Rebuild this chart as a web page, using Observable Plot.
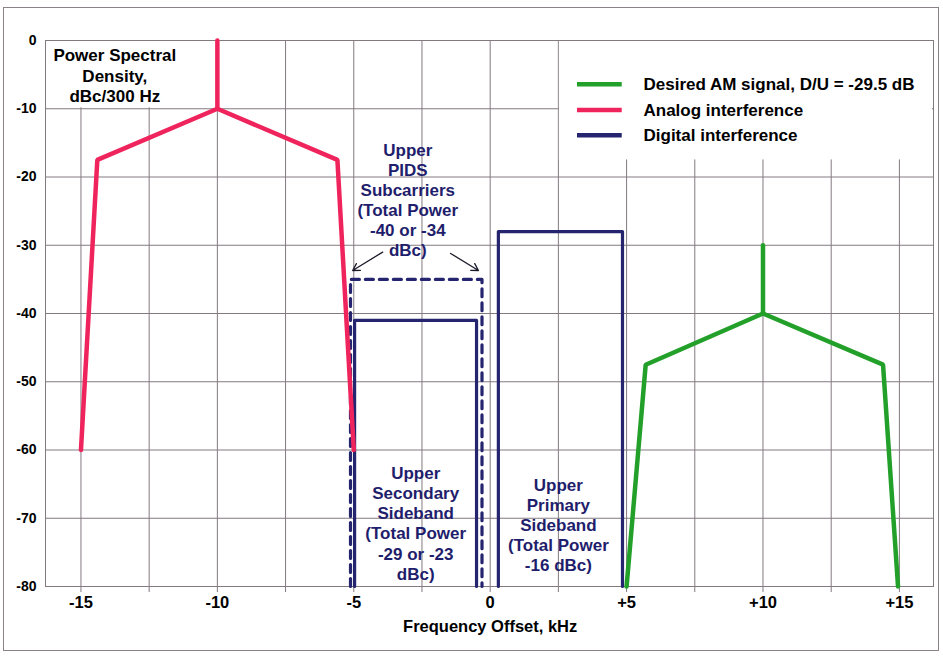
<!DOCTYPE html>
<html>
<head>
<meta charset="utf-8">
<script src="https://cdn.jsdelivr.net/npm/d3@7"></script>
<script src="https://cdn.jsdelivr.net/npm/@observablehq/plot@0.6"></script>
<style>
  html, body { margin: 0; padding: 0; background: #fff; }
  #wrap { position: relative; width: 943px; height: 656px; overflow: hidden; }
  #border { position: absolute; left: 3px; top: 7px; width: 934px; height: 642px; border: 1px solid #8a8288; pointer-events: none; }
</style>
</head>
<body>
<div id="wrap"><div id="border"></div></div>
<script>
// ---- Data ----
const xTicks = [-15, -12.5, -10, -7.5, -5, -2.5, 0, 2.5, 5, 7.5, 10, 12.5, 15];
const xTickLabels = ["-15", "", "-10", "", "-5", "", "0", "", "+5", "", "+10", "", "+15"];
const yTicks = [-80, -70, -60, -50, -40, -30, -20, -10, 0];
const yTickLabels = ["-80", "-70", "-60", "-50", "-40", "-30", "-20", "-10", "0"];

// Analog interference (kHz, dBc/300 Hz)
const analogX = [-15, -14.4, -10, -5.6, -5];
const analogY = [-60, -17.5, -10, -17.5, -60];
const analogSpikeX = [-10, -10];
const analogSpikeY = [-10, 0];

// Desired AM signal
const desiredX = [5.0, 5.7, 10, 14.4, 14.95];
const desiredY = [-80, -47.5, -40, -47.5, -80];
const desiredSpikeX = [10, 10];
const desiredSpikeY = [-40, -30];

// Digital interference
const secondaryX = [-4.97, -4.97, -0.5, -0.5];
const secondaryY = [-80, -41, -41, -80];
const pidsX = [-5.12, -5.12, -0.3, -0.3];
const pidsY = [-80, -35, -35, -80];
const primaryX = [0.3, 0.3, 4.85, 4.85];
const primaryY = [-80, -28, -28, -80];

// Legend
const legendLabels = ["Desired AM signal, D/U = -29.5 dB", "Analog interference", "Digital interference"];
const legendColors = ["#22a02a", "#f0245c", "#25246e"];
const legendY = [-6.4, -10.2, -13.9];

// Annotations
const annoTexts = [
  "Upper\nPIDS\nSubcarriers\n(Total Power\n-40 or -34\ndBc)",
  "Upper\nSecondary\nSideband\n(Total Power\n-29 or -23\ndBc)",
  "Upper\nPrimary\nSideband\n(Total Power\n-16 dBc)"
];
const annoX = [-3.02, -2.73, 2.5];
const annoY = [-23.3, -70.7, -70.9];
const arrowX1 = [-3.94, -1.45];
const arrowY1 = [-31.0, -31.2];
const arrowX2 = [-5.04, -0.43];
const arrowY2 = [-33.7, -33.7];

const psdText = "Power Spectral\nDensity,\ndBc/300 Hz";

// ---- Build tables ----
const pts = (xs, ys) => xs.map((x, i) => ({x, y: ys[i]}));
const legend = legendLabels.map((label, i) => ({label, color: legendColors[i], y: legendY[i]}));
const annos = annoTexts.map((t, i) => ({t, x: annoX[i], y: annoY[i]}));
const arrows = arrowX1.map((x1, i) => ({x1, y1: arrowY1[i], x2: arrowX2[i], y2: arrowY2[i]}));
const xLabelOf = new Map(xTicks.map((t, i) => [t, xTickLabels[i]]));
const yLabelOf = new Map(yTicks.map((t, i) => [t, yTickLabels[i]]));

const GRID = "#837a80";
const RED = legendColors[1], GREEN = legendColors[0], NAVY = legendColors[2];
const TEXTNAVY = "#1f1e6c";
const FS = 17;

const chart = Plot.plot({
  width: 943,
  height: 656,
  marginLeft: 45,
  marginRight: 10,
  marginTop: 40,
  marginBottom: 70,
  x: {domain: [-16.3, 16.25]},
  y: {domain: [-80, 0]},
  style: {fontFamily: "'Liberation Sans', Arial, sans-serif", fontWeight: "bold", background: "transparent", color: "black"},
  marks: [
    Plot.gridX(xTicks, {stroke: GRID, strokeOpacity: 1, strokeWidth: 1}),
    Plot.gridY(yTicks, {stroke: GRID, strokeOpacity: 1, strokeWidth: 1}),
    // white boxes behind the labels
    Plot.rect([{x1: -16.3, x2: -10, y1: -10, y2: 0}], {x1: "x1", x2: "x2", y1: "y1", y2: "y2", fill: "white", insetBottom: 1, insetLeft: 1, insetTop: 1}),
    Plot.rect([{x1: 2.5, x2: 16.25, y1: -17.5, y2: 0}], {x1: "x1", x2: "x2", y1: "y1", y2: "y2", fill: "white", insetLeft: 1, insetTop: 1, insetRight: 1}),
    Plot.axisX(xTicks, {tickSize: 6, tickPadding: 4, stroke: GRID, fill: "black", fontSize: 16.5, fontWeight: "bold", tickFormat: d => xLabelOf.get(d), label: null}),
    Plot.axisY(yTicks, {tickSize: 0, tickPadding: 9, fill: "black", fontSize: 14, fontWeight: "bold", tickFormat: d => yLabelOf.get(d), label: null}),
    Plot.frame({stroke: GRID, strokeWidth: 1}),
    // digital interference
    Plot.line(pts(pidsX, pidsY), {x: "x", y: "y", stroke: NAVY, strokeWidth: 3.2, strokeDasharray: "8,6"}),
    Plot.line(pts(secondaryX, secondaryY), {x: "x", y: "y", stroke: NAVY, strokeWidth: 3.2}),
    Plot.line(pts(primaryX, primaryY), {x: "x", y: "y", stroke: NAVY, strokeWidth: 3.2}),
    // analog interference
    Plot.line(pts(analogX, analogY), {x: "x", y: "y", stroke: RED, strokeWidth: 4.5, strokeLinejoin: "miter"}),
    Plot.line(pts(analogSpikeX, analogSpikeY), {x: "x", y: "y", stroke: RED, strokeWidth: 4.5}),
    // desired
    Plot.line(pts(desiredX, desiredY), {x: "x", y: "y", stroke: GREEN, strokeWidth: 4.5, strokeLinejoin: "miter"}),
    Plot.line(pts(desiredSpikeX, desiredSpikeY), {x: "x", y: "y", stroke: GREEN, strokeWidth: 4.5}),
    // annotations
    Plot.text(annos, {x: "x", y: "y", text: "t", fill: TEXTNAVY, fontSize: FS, fontWeight: "bold", lineHeight: 1.18, textAnchor: "middle", lineAnchor: "middle"}),
    Plot.arrow(arrows, {x1: "x1", y1: "y1", x2: "x2", y2: "y2", stroke: "#1a1a2a", strokeWidth: 1.3, headLength: 9}),
    Plot.text([psdText], {x: -13.76, y: -5.1, text: d => d, fill: "black", fontSize: FS, fontWeight: "bold", lineHeight: 1.2, textAnchor: "middle", lineAnchor: "middle"}),
    // legend
    Plot.ruleY(legend, {y: "y", x1: 3.2, x2: 4.84, stroke: "color", strokeWidth: 4.5}),
    Plot.text(legend, {x: 5.62, y: "y", text: "label", fill: "black", fontSize: FS, fontWeight: "bold", textAnchor: "start", lineAnchor: "middle"}),
    // x axis title
    Plot.text(["Frequency Offset, kHz"], {frameAnchor: "bottom", x: 0, text: d => d, dy: 40, fill: "black", fontSize: 16.5, fontWeight: "bold", textAnchor: "middle", lineAnchor: "middle"})
  ]
});
document.getElementById("wrap").insertBefore(chart, document.getElementById("border"));
</script>
</body>
</html>
